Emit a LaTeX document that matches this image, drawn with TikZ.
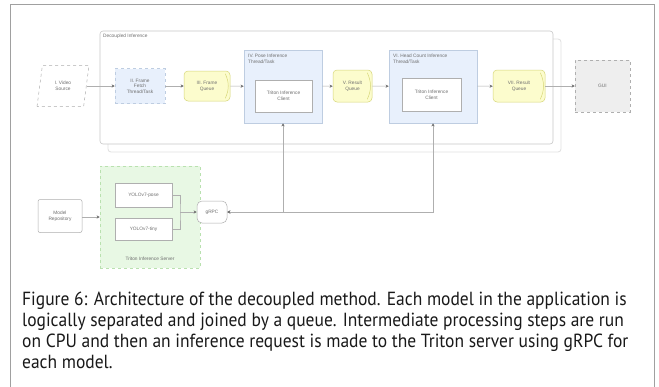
\documentclass[tikz,border=0pt]{standalone}
\usepackage{fontspec}
\setmainfont{Liberation Sans}
\newfontfamily\capfont[FakeStretch=0.92]{PT Sans}
\usetikzlibrary{shapes.geometric,arrows.meta}

\definecolor{framegray}{RGB}{160,160,160}
\definecolor{taskfill}{RGB}{232,240,252}
\definecolor{taskline}{RGB}{190,205,225}
\definecolor{queuefill}{RGB}{252,252,205}
\definecolor{queueline}{RGB}{215,215,120}
\definecolor{srvfill}{RGB}{232,248,228}
\definecolor{srvline}{RGB}{185,225,175}
\definecolor{guifill}{RGB}{238,238,238}
\definecolor{lblcol}{RGB}{110,110,110}
\definecolor{linecol}{RGB}{175,175,175}

\begin{document}
\begin{tikzpicture}[x=1pt,y=-1pt,
  lbl/.style={font=\fontsize{4.8}{5.6}\selectfont, text=lblcol, align=center},
  boxbase/.style={lbl, inner sep=1pt, line width=0.5pt},
  sourcebox/.style={boxbase, draw=linecol, dashed, fill=white, trapezium,
    trapezium left angle=78, trapezium right angle=102, trapezium stretches=true,
    minimum width=52pt, minimum height=41pt},
  taskbox/.style={boxbase, draw=taskline, dashed, fill=taskfill},
  groupbox/.style={boxbase, draw=taskline, fill=taskfill},
  clientbox/.style={boxbase, draw=linecol, fill=white},
  queuebox/.style={boxbase, draw=queueline, fill=queuefill, rounded corners=4pt},
  guibox/.style={boxbase, draw=linecol, dashed, fill=guifill},
  plainbox/.style={boxbase, draw=linecol, fill=white, rounded corners=2pt},
  conn/.style={draw=linecol, line width=0.5pt,
    -{Stealth[length=3.2pt,width=3.2pt,color=black!55]}},
  bothconn/.style={draw=linecol, line width=0.5pt,
    {Stealth[length=3.2pt,width=3.2pt,color=black!55]}-{Stealth[length=3.2pt,width=3.2pt,color=black!55]}},
]
\useasboundingbox (0,0) rectangle (659,386);
\fill[white] (0,0) rectangle (659,386);

% outer page frame, open at the bottom
\draw[framegray, line width=1pt] (10,392) -- (10,4) -- (654,4) -- (654,392);

% application container with its offset shadow
\draw[black!12, line width=0.8pt, rounded corners=3pt] (108,39) rectangle (561,152);
\draw[black!22, line width=0.6pt, fill=white, rounded corners=3pt] (100,31) rectangle (553,144);
\node[lbl, anchor=north west, inner sep=0pt] (applbl) at (103,34) {Decoupled Inference};

% pipeline nodes
\node[sourcebox] (vs) at (63,86) {I. Video\\Source};
\node[taskbox, minimum width=50pt, minimum height=35pt] (ff) at (140,86) {II. Frame\\Fetch\\Thread/Task};
\node[queuebox, minimum width=46pt, minimum height=30pt] (fq) at (207,86) {III. Frame\\Queue};

\node[groupbox, minimum width=78pt, minimum height=73pt] (iv) at (283,86.5) {};
\node[lbl, anchor=north west, align=left, inner sep=0pt] (ivt) at (248,54) {IV. Pose Inference\\Thread/Task};
\node[clientbox, minimum width=57pt, minimum height=32pt] (ivc) at (283.5,96) {Triton Inference\\Client};

\node[queuebox, minimum width=39pt, minimum height=32pt] (rq1) at (352.5,86) {V. Result\\Queue};

\node[groupbox, minimum width=88pt, minimum height=73pt] (vi) at (433,86.5) {};
\node[lbl, anchor=north west, align=left, inner sep=0pt] (vit) at (393,54) {VI. Head Count Inference\\Thread/Task};
\node[clientbox, minimum width=59pt, minimum height=33pt] (vic) at (431.5,95) {Triton Inference\\Client};

\node[queuebox, minimum width=52pt, minimum height=32pt] (rq2) at (519,86) {VII. Result\\Queue};

\node[guibox, minimum width=55pt, minimum height=52pt] (gui) at (602.5,86) {GUI};

% queue end marks
\foreach \q in {fq,rq1,rq2}
  \draw[queueline, line width=0.5pt] ([shift={(-5,3)}]\q.north east) to[bend left=25] ([shift={(-5,-3)}]\q.south east);

% pipeline connectors
\draw[conn] (vs) -- (ff);
\draw[conn] (ff) -- (fq);
\draw[conn] (fq) -- (iv);
\draw[conn] (iv) -- (rq1);
\draw[conn] (rq1) -- (vi);
\draw[conn] (vi) -- (rq2);
\draw[conn] (rq2) -- (gui);

% inference server group
\node[boxbase, draw=srvline, dashed, fill=srvfill, minimum width=100pt, minimum height=102pt] (srv) at (150,217) {};
\node[lbl, anchor=south, inner sep=0pt] (srvlbl) at (150,261) {Triton Inference Server};
\node[clientbox, minimum width=57pt, minimum height=24pt] (yp) at (143.5,195) {YOLOv7-pose};
\node[clientbox, minimum width=57pt, minimum height=22pt] (yt) at (143.5,229) {YOLOv7-tiny};
\coordinate (br) at (180,212);
\draw[linecol, line width=0.5pt] (yp.east) -| (br) |- (yt.east);

\node[plainbox, minimum width=44pt, minimum height=33pt] (mr) at (60,216) {Model\\Repository};
\node[plainbox, rounded corners=5pt, minimum width=30pt, minimum height=22pt] (grpc) at (212,212) {gRPC};

\draw[conn] (mr.east |- srv.west) -- (srv.west);
\draw[conn] (br) -- (grpc);
\draw[bothconn] (grpc.east) -| (iv.south);
\draw[bothconn] (grpc.east) -| (vi.south);

% caption
\begin{scope}[every node/.style={anchor=base west, inner sep=0pt,
    font=\capfont\fontsize{19}{21}\selectfont, text=black!90}]
\node (c1) at (22,305) {Figure 6: Architecture of the decoupled method. Each model in the application is};
\node (c2) at (22,326) {logically separated and joined by a queue. Intermediate processing steps are run};
\node (c3) at (22,347) {on CPU and then an inference request is made to the Triton server using gRPC for};
\node (c4) at (22,368) {each model.};
\end{scope}
\end{tikzpicture}
\end{document}
